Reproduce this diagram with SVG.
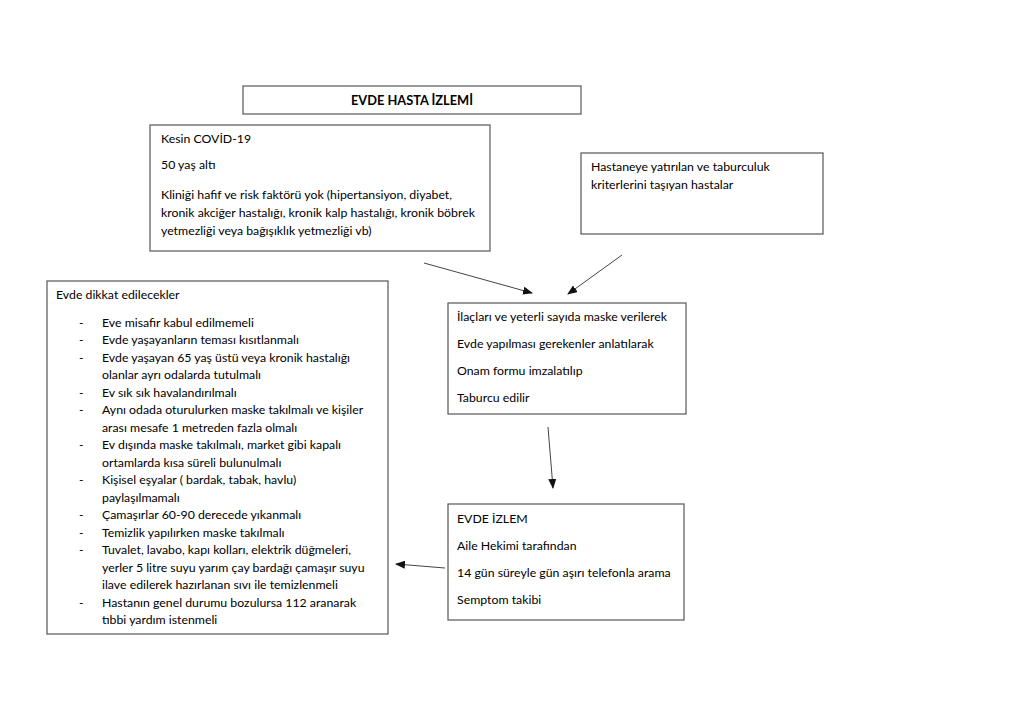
<svg xmlns="http://www.w3.org/2000/svg" width="1024" height="723" viewBox="0 0 1024 723">
<style>
.box{fill:#fff;stroke:#555;stroke-width:1.2}
text{font-family:Lato,"Liberation Sans",sans-serif;font-size:12.3px;fill:#000}
.b{font-weight:bold;font-size:12.8px}
.c{stroke:#444;stroke-width:1;fill:none;marker-end:url(#ah)}
</style>
<defs>
<marker id="ah" markerWidth="10" markerHeight="8" refX="9" refY="4" orient="auto" markerUnits="userSpaceOnUse">
<path d="M0,0 L10,4 L0,8 Z" fill="#111"/>
</marker>
</defs>
<rect width="1024" height="723" fill="#fff"/>
<g id="title">
<rect class="box" x="243" y="86" width="338" height="28"/>
<text class="b" x="412" y="105" text-anchor="middle">EVDE HASTA İZLEMİ</text>
</g>
<g id="kesin">
<rect class="box" x="150" y="125" width="340" height="126"/>
<text x="161" y="143">Kesin COVİD-19</text>
<text x="161" y="169">50 yaş altı</text>
<text x="161" y="199">Kliniği hafif ve risk faktörü yok (hipertansiyon, diyabet,</text>
<text x="161" y="217">kronik akciğer hastalığı, kronik kalp hastalığı, kronik böbrek</text>
<text x="161" y="235">yetmezliği veya bağışıklık yetmezliği vb)</text>
</g>
<g id="hastane">
<rect class="box" x="581" y="153" width="242" height="81"/>
<text x="591" y="171">Hastaneye yatırılan ve taburculuk</text>
<text x="591" y="189">kriterlerini taşıyan hastalar</text>
</g>
<g id="taburcu">
<rect class="box" x="448" y="303" width="238" height="111"/>
<text x="457" y="321">İlaçları ve yeterli sayıda maske verilerek</text>
<text x="457" y="348">Evde yapılması gerekenler anlatılarak</text>
<text x="457" y="375">Onam formu imzalatılıp</text>
<text x="457" y="402">Taburcu edilir</text>
</g>
<g id="izlem">
<rect class="box" x="448" y="504" width="236" height="116"/>
<text x="457" y="523">EVDE İZLEM</text>
<text x="457" y="550">Aile Hekimi tarafından</text>
<text x="457" y="577">14 gün süreyle gün aşırı telefonla arama</text>
<text x="457" y="604">Semptom takibi</text>
</g>
<g id="dikkat">
<rect class="box" x="47" y="281" width="341" height="353"/>
<text x="56" y="299">Evde dikkat edilecekler</text>
<g>
<text x="79" y="326.5">-</text><text x="102" y="326.5">Eve misafir kabul edilmemeli</text>
<text x="79" y="344">-</text><text x="102" y="344">Evde yaşayanların teması kısıtlanmalı</text>
<text x="79" y="361.5">-</text><text x="102" y="361.5">Evde yaşayan 65 yaş üstü veya kronik hastalığı</text>
<text x="102" y="379">olanlar ayrı odalarda tutulmalı</text>
<text x="79" y="396.5">-</text><text x="102" y="396.5">Ev sık sık havalandırılmalı</text>
<text x="79" y="414">-</text><text x="102" y="414">Aynı odada oturulurken maske takılmalı ve kişiler</text>
<text x="102" y="431.5">arası mesafe 1 metreden fazla olmalı</text>
<text x="79" y="449">-</text><text x="102" y="449">Ev dışında maske takılmalı, market gibi kapalı</text>
<text x="102" y="466.5">ortamlarda kısa süreli bulunulmalı</text>
<text x="79" y="484">-</text><text x="102" y="484">Kişisel eşyalar ( bardak, tabak, havlu)</text>
<text x="102" y="501.5">paylaşılmamalı</text>
<text x="79" y="519">-</text><text x="102" y="519">Çamaşırlar 60-90 derecede yıkanmalı</text>
<text x="79" y="536.5">-</text><text x="102" y="536.5">Temizlik yapılırken maske takılmalı</text>
<text x="79" y="554">-</text><text x="102" y="554">Tuvalet, lavabo, kapı kolları, elektrik düğmeleri,</text>
<text x="102" y="571.5">yerler 5 litre suyu yarım çay bardağı çamaşır suyu</text>
<text x="102" y="589">ilave edilerek hazırlanan sıvı ile temizlenmeli</text>
<text x="79" y="606.5">-</text><text x="102" y="606.5">Hastanın genel durumu bozulursa 112 aranarak</text>
<text x="102" y="624">tıbbi yardım istenmeli</text>
</g>
</g>
<g id="connectors">
<line class="c" x1="424" y1="263" x2="532" y2="293"/>
<line class="c" x1="622" y1="255" x2="568" y2="294"/>
<line class="c" x1="548" y1="427" x2="553" y2="488"/>
<line class="c" x1="445" y1="568" x2="396" y2="564"/>
</g>
</svg>
